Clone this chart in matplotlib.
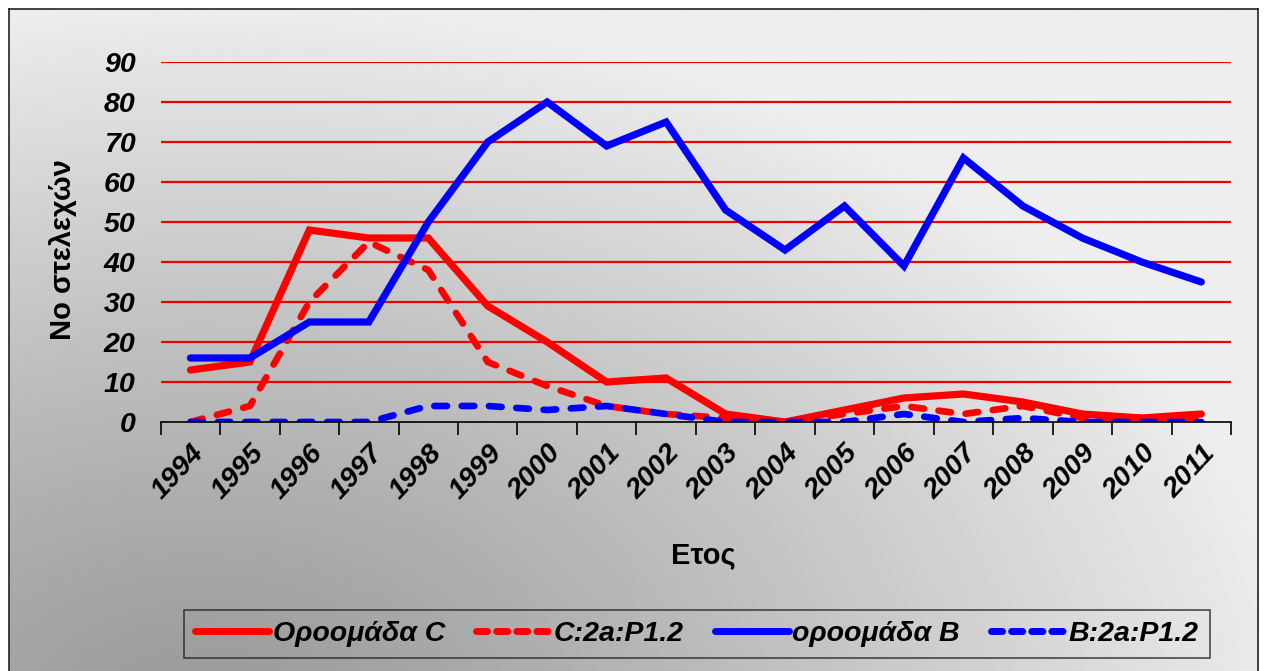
import numpy as np
import matplotlib
matplotlib.use("Agg")
import matplotlib.pyplot as plt
from matplotlib.lines import Line2D

plt.rcParams['font.family'] = ['Liberation Sans', 'DejaVu Sans']

years = ['1994', '1995', '1996', '1997', '1998', '1999', '2000', '2001', '2002',
         '2003', '2004', '2005', '2006', '2007', '2008', '2009', '2010', '2011']

group_c = [13, 15, 48, 46, 46, 29, 20, 10, 11, 2, 0, 3, 6, 7, 5, 2, 1, 2]
c_2a_p12 = [0, 4, 30, 45, 38, 15, 9, 4, 2, 1, 0, 2, 4, 2, 4, 1, 1, 1]
group_b = [16, 16, 25, 25, 50, 70, 80, 69, 75, 53, 43, 54, 39, 66, 54, 46, 40, 35]
b_2a_p12 = [0, 0, 0, 0, 4, 4, 3, 4, 2, 0, 0, 0, 2, 0, 1, 0, 0, 0]

labels = ['Οροομάδα C', 'C:2a:P1.2', 'οροομάδα B', 'B:2a:P1.2']
yticks = [0, 10, 20, 30, 40, 50, 60, 70, 80, 90]

W, H = 1266, 671
fig = plt.figure(figsize=(W / 100, H / 100), dpi=100, facecolor='white')

# gradient backdrop inside the outer frame
fx0, fy0, fx1, fy1 = 9, 9, 1258, 671
bg = fig.add_axes([fx0 / W, 1 - fy1 / H, (fx1 - fx0) / W, (fy1 - fy0) / H], zorder=0)
gx = np.linspace(fx0, fx1, 400)
gy = np.linspace(fy0, fy1, 250)
X, Y = np.meshgrid(gx, gy)
r = np.sqrt(((X - 200) / 1100.0) ** 2 + ((Y - 720) / 720.0) ** 2)
t = np.clip(r, 0, 1) ** 1.2
shade = 0.60 + (0.93 - 0.60) * t
bg.imshow(shade, cmap='gray', vmin=0, vmax=1, extent=[0, 1, 0, 1],
          aspect='auto', origin='upper', interpolation='bilinear')
bg.set_xlim(0, 1)
bg.set_ylim(0, 1)
bg.set_xticks([])
bg.set_yticks([])
for side in ('left', 'top', 'right'):
    bg.spines[side].set_color('#222222')
    bg.spines[side].set_linewidth(1.2)
bg.spines['bottom'].set_visible(False)

# main plotting area
px0, px1, py0, py1 = 160.7, 1231, 62, 422
ax = fig.add_axes([px0 / W, 1 - py1 / H, (px1 - px0) / W, (py1 - py0) / H], zorder=1)
ax.set_facecolor('none')

n = len(years)
xpos = np.arange(n) + 0.5

dash = (1.9, 2.2)
ax.plot(xpos, group_c, color='#ff0000', lw=5.2, solid_capstyle='round',
        solid_joinstyle='miter', zorder=3, label=labels[0])
ax.plot(xpos, c_2a_p12, color='#ff0000', lw=4.8, dashes=dash,
        dash_capstyle='round', zorder=4, label=labels[1])
ax.plot(xpos, group_b, color='#0000ff', lw=5.2, solid_capstyle='round',
        solid_joinstyle='miter', zorder=5, label=labels[2])
ax.plot(xpos, b_2a_p12, color='#0000ff', lw=4.8, dashes=dash,
        dash_capstyle='round', zorder=6, label=labels[3])

ax.set_xlim(0, n)
ax.set_ylim(0, 90)

for v in yticks[1:]:
    ax.axhline(v, color='#ee0000', lw=1.6, zorder=2)

ax.set_yticks(yticks)
ax.set_yticklabels([str(v) for v in yticks], fontsize=20.5, fontweight='bold',
                   fontstyle='italic')
ax.tick_params(axis='y', length=0, pad=18)

ax.set_xticks(np.arange(n + 1))
ax.set_xticklabels([])
ax.set_xticks(xpos, minor=True)
ax.set_xticklabels(years, minor=True, rotation=47, ha='right',
                   rotation_mode='anchor', fontsize=20.5, fontweight='bold',
                   fontstyle='italic')
ax.tick_params(axis='x', which='major', length=9, width=1.2, color='black',
               direction='out')
ax.tick_params(axis='x', which='minor', length=0, pad=13)

for side in ('left', 'top', 'right'):
    ax.spines[side].set_visible(False)
ax.spines['bottom'].set_linewidth(1.2)
ax.spines['bottom'].set_color('black')
ax.spines['bottom'].set_zorder(7)

ax.set_ylabel('Νο στελεχών', fontsize=21, fontweight='bold')
ax.yaxis.set_label_coords(-0.078, 0.478)
ax.set_xlabel('Ετος', fontsize=21, fontweight='bold')
ax.xaxis.set_label_coords(0.507, -0.33)

handles = [
    Line2D([], [], color='#ff0000', lw=5, solid_capstyle='round'),
    Line2D([], [], color='#ff0000', lw=5, dashes=(1.6, 1.3), dash_capstyle='round'),
    Line2D([], [], color='#0000ff', lw=5, solid_capstyle='round'),
    Line2D([], [], color='#0000ff', lw=5, dashes=(1.6, 1.3), dash_capstyle='round'),
]
leg = fig.legend(handles, labels, loc='center', bbox_to_anchor=(697 / W, 1 - 634 / H),
                 ncol=4, frameon=True, fancybox=False, handlelength=2.6,
                 handletextpad=0.12, columnspacing=1.1, borderpad=0.4,
                 prop={'size': 20.5, 'weight': 'bold', 'style': 'italic'})
leg.get_frame().set_facecolor('none')
leg.get_frame().set_edgecolor('#222222')
leg.get_frame().set_linewidth(1.2)
leg.set_zorder(8)

fig.savefig('out.png', dpi=100, facecolor='white')
